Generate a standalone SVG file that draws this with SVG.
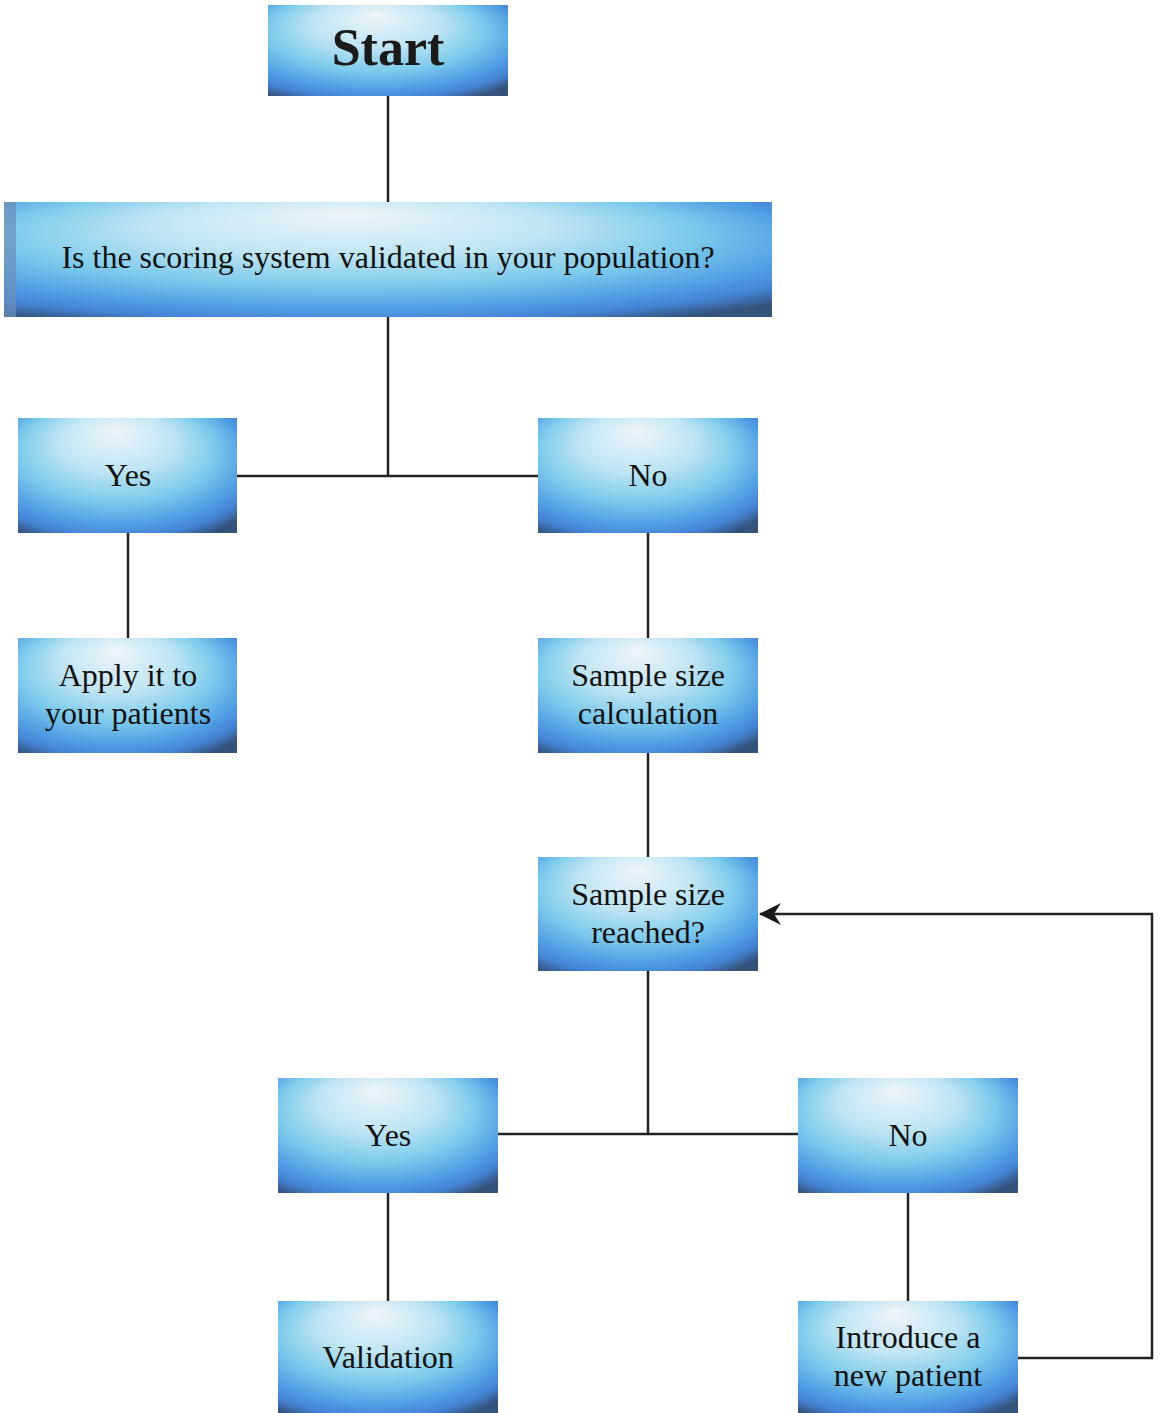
<svg xmlns="http://www.w3.org/2000/svg" width="1161" height="1413" viewBox="0 0 1161 1413">
  <defs>
    <radialGradient id="boxFill" cx="0.45" cy="0.4" r="0.74" fx="0.45" fy="0.1">
      <stop offset="0" stop-color="#eef5fb"/>
      <stop offset="0.35" stop-color="#c0e5f3"/>
      <stop offset="0.6" stop-color="#7ecbec"/>
      <stop offset="0.8" stop-color="#509de4"/>
      <stop offset="0.9" stop-color="#4583d4"/>
      <stop offset="1" stop-color="#34527a"/>
    </radialGradient>
    <marker id="arrow" viewBox="0 0 22 22" refX="21" refY="11" markerWidth="22" markerHeight="22" markerUnits="userSpaceOnUse" orient="auto">
      <path d="M22,11 L0,0 L7,11 L0,22 Z" fill="#1a1a1a"/>
    </marker>
    <style>
      .box { fill: url(#boxFill); }
      .lbl { font-family: "Liberation Serif", "Times New Roman", serif; font-size: 32px; fill: #111; text-anchor: middle; }
      .title { font-family: "Liberation Serif", "Times New Roman", serif; font-size: 52px; font-weight: bold; fill: #1a1a1a; text-anchor: middle; }
      .wire { fill: none; stroke: #222; stroke-width: 2.5; }
    </style>
  </defs>

  <g id="connectors">
    <path class="wire" d="M388,96 V202"/>
    <path class="wire" d="M388,317 V476 M237,476 H538"/>
    <path class="wire" d="M128,533 V638"/>
    <path class="wire" d="M648,533 V638"/>
    <path class="wire" d="M648,753 V857"/>
    <path class="wire" d="M648,971 V1134 M498,1134 H798"/>
    <path class="wire" d="M388,1193 V1301"/>
    <path class="wire" d="M908,1193 V1301"/>
    <path class="wire" d="M1018,1358 H1152 V914 H760" marker-end="url(#arrow)"/>
  </g>

  <g id="start">
    <rect class="box" x="268" y="5" width="240" height="91"/>
    <text class="title" x="388" y="65">Start</text>
  </g>
  <g id="validated">
    <rect class="box" x="4" y="202" width="768" height="115"/>
    <rect x="4" y="202" width="12" height="115" fill="#6b8fb8" opacity="0.7"/>
    <text class="lbl" x="388" y="268" font-size="32.5">Is the scoring system validated in your population?</text>
  </g>
  <g id="yes1">
    <rect class="box" x="18" y="418" width="219" height="115"/>
    <text class="lbl" x="128" y="486">Yes</text>
  </g>
  <g id="no1">
    <rect class="box" x="538" y="418" width="220" height="115"/>
    <text class="lbl" x="648" y="486">No</text>
  </g>
  <g id="apply">
    <rect class="box" x="18" y="638" width="219" height="115"/>
    <text class="lbl" x="128" y="686">Apply it to</text>
    <text class="lbl" x="128" y="724">your patients</text>
  </g>
  <g id="sample-calc">
    <rect class="box" x="538" y="638" width="220" height="115"/>
    <text class="lbl" x="648" y="686">Sample size</text>
    <text class="lbl" x="648" y="724">calculation</text>
  </g>
  <g id="sample-reached">
    <rect class="box" x="538" y="857" width="220" height="114"/>
    <text class="lbl" x="648" y="905">Sample size</text>
    <text class="lbl" x="648" y="943">reached?</text>
  </g>
  <g id="yes2">
    <rect class="box" x="278" y="1078" width="220" height="115"/>
    <text class="lbl" x="388" y="1146">Yes</text>
  </g>
  <g id="no2">
    <rect class="box" x="798" y="1078" width="220" height="115"/>
    <text class="lbl" x="908" y="1146">No</text>
  </g>
  <g id="validation">
    <rect class="box" x="278" y="1301" width="220" height="112"/>
    <text class="lbl" x="388" y="1368">Validation</text>
  </g>
  <g id="introduce">
    <rect class="box" x="798" y="1301" width="220" height="112"/>
    <text class="lbl" x="908" y="1348">Introduce a</text>
    <text class="lbl" x="908" y="1386">new patient</text>
  </g>
</svg>
